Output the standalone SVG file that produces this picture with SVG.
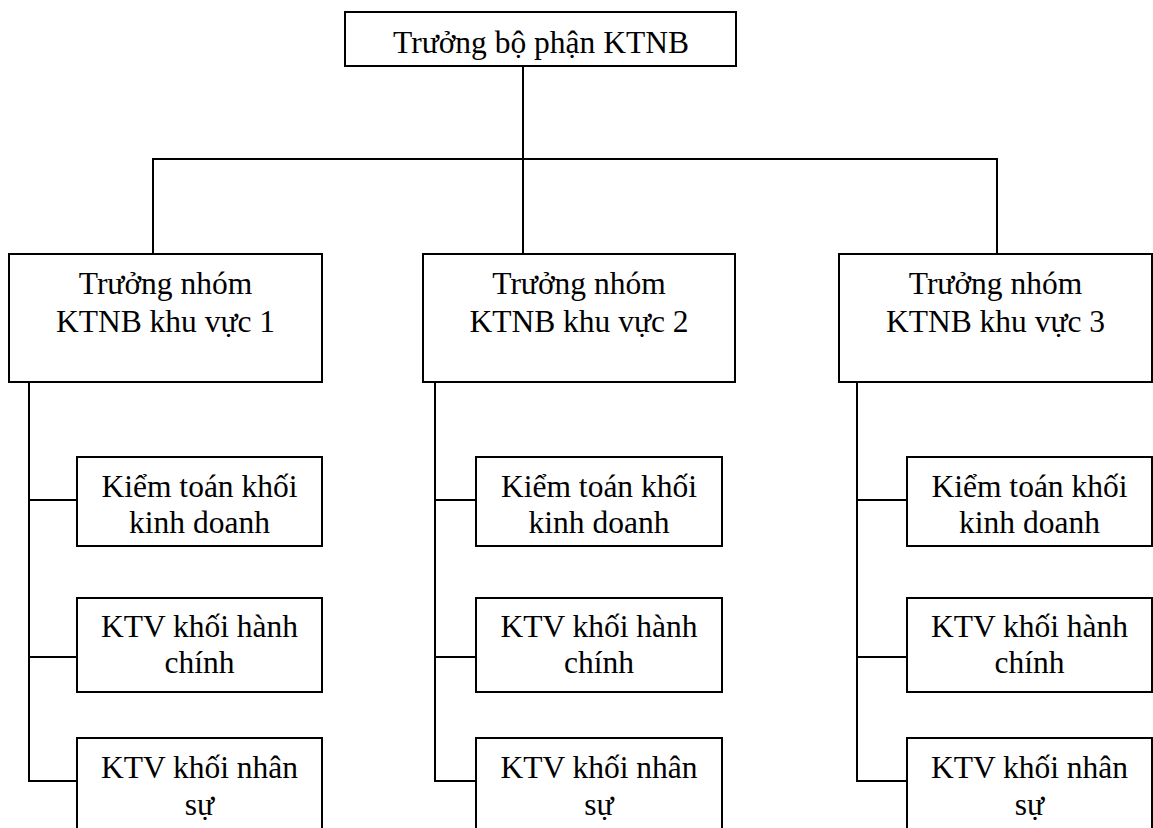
<svg xmlns="http://www.w3.org/2000/svg" width="1153" height="828" viewBox="0 0 1153 828">
  <style>
    .box { fill: #ffffff; stroke: #000000; stroke-width: 2; }
    .link { fill: none; stroke: #000000; stroke-width: 2; }
    .lbl { font-family: 'Liberation Serif', 'Times New Roman', Times, 'DejaVu Serif', serif; font-size: 31.5px; fill: #000000; text-anchor: middle; }
  </style>
  <rect width="1153" height="828" fill="#ffffff"/>

  <!-- connectors -->
  <g id="connectors" class="link">
    <!-- head to regional leads -->
    <path d="M523 66 V254"/>
    <path d="M153 254 V159 H997 V254"/>
    <!-- region 1 -->
    <path d="M29 382 V781 H77"/>
    <path d="M29 500 H77"/>
    <path d="M29 657 H77"/>
    <!-- region 2 -->
    <path d="M435 382 V781 H476"/>
    <path d="M435 500 H476"/>
    <path d="M435 657 H476"/>
    <!-- region 3 -->
    <path d="M857 382 V781 H907"/>
    <path d="M857 500 H907"/>
    <path d="M857 657 H907"/>
  </g>

  <g id="head">
    <rect class="box" x="345" y="12" width="391" height="54"/>
    <text class="lbl" font-family="Liberation Serif, serif" x="541" y="53">Trưởng bộ phận KTNB</text>
  </g>

  <g id="lead-1">
    <rect class="box" x="9" y="254" width="313" height="128"/>
    <text class="lbl" x="165.5" y="294">Trưởng nhóm</text>
    <text class="lbl" x="165.5" y="332">KTNB khu vực 1</text>
  </g>
  <g id="lead-2">
    <rect class="box" x="423" y="254" width="312" height="128"/>
    <text class="lbl" x="579" y="294">Trưởng nhóm</text>
    <text class="lbl" x="579" y="332">KTNB khu vực 2</text>
  </g>
  <g id="lead-3">
    <rect class="box" x="839" y="254" width="313" height="128"/>
    <text class="lbl" x="995.5" y="294">Trưởng nhóm</text>
    <text class="lbl" x="995.5" y="332">KTNB khu vực 3</text>
  </g>

  <!-- region 1 teams -->
  <g id="r1-business">
    <rect class="box" x="77" y="457" width="245" height="89"/>
    <text class="lbl" x="199.5" y="497">Kiểm toán khối</text>
    <text class="lbl" x="199.5" y="533">kinh doanh</text>
  </g>
  <g id="r1-admin">
    <rect class="box" x="77" y="598" width="245" height="94"/>
    <text class="lbl" x="199.5" y="637">KTV khối hành</text>
    <text class="lbl" x="199.5" y="673">chính</text>
  </g>
  <g id="r1-hr">
    <rect class="box" x="77" y="738" width="245" height="100"/>
    <text class="lbl" x="199.5" y="778">KTV khối nhân</text>
    <text class="lbl" x="199.5" y="815">sự</text>
  </g>

  <!-- region 2 teams -->
  <g id="r2-business">
    <rect class="box" x="476" y="457" width="246" height="89"/>
    <text class="lbl" x="599" y="497">Kiểm toán khối</text>
    <text class="lbl" x="599" y="533">kinh doanh</text>
  </g>
  <g id="r2-admin">
    <rect class="box" x="476" y="598" width="246" height="94"/>
    <text class="lbl" x="599" y="637">KTV khối hành</text>
    <text class="lbl" x="599" y="673">chính</text>
  </g>
  <g id="r2-hr">
    <rect class="box" x="476" y="738" width="246" height="100"/>
    <text class="lbl" x="599" y="778">KTV khối nhân</text>
    <text class="lbl" x="599" y="815">sự</text>
  </g>

  <!-- region 3 teams -->
  <g id="r3-business">
    <rect class="box" x="907" y="457" width="245" height="89"/>
    <text class="lbl" x="1029.5" y="497">Kiểm toán khối</text>
    <text class="lbl" x="1029.5" y="533">kinh doanh</text>
  </g>
  <g id="r3-admin">
    <rect class="box" x="907" y="598" width="245" height="94"/>
    <text class="lbl" x="1029.5" y="637">KTV khối hành</text>
    <text class="lbl" x="1029.5" y="673">chính</text>
  </g>
  <g id="r3-hr">
    <rect class="box" x="907" y="738" width="245" height="100"/>
    <text class="lbl" x="1029.5" y="778">KTV khối nhân</text>
    <text class="lbl" x="1029.5" y="815">sự</text>
  </g>
</svg>
